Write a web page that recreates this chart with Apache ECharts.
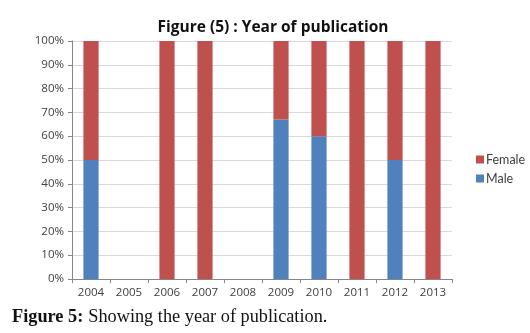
<!DOCTYPE html>
<html>
<head>
<meta charset="utf-8">
<script src="https://cdn.jsdelivr.net/npm/echarts@6/dist/echarts.min.js"></script>
<style>
  html, body { margin: 0; padding: 0; background: #fff; }
  #chart { width: 530px; height: 333px; }
</style>
</head>
<body>
<div id="chart"></div>
<script>
// years on the x axis
const years = ["2004", "2005", "2006", "2007", "2008", "2009", "2010", "2011", "2012", "2013"];
// share of each year's publications, in percent
const male = [50, 0, 0, 0, 0, 67, 60, 0, 50, 0];
const female = [50, 0, 100, 100, 0, 33, 40, 100, 50, 100];

const chart = echarts.init(document.getElementById("chart"));

const option = {
  animation: false,
  title: [
    {
      text: "Figure (5) : Year of publication",
      left: 268,
      top: 15,
      textAlign: "center",
      textStyle: { fontFamily: "Open Sans", fontWeight: "bold", fontSize: 15.5, color: "#111" }
    },
    {
      // caption under the chart
      text: "{b|Figure 5:} {n|Showing the year of publication.}",
      left: 7,
      top: 303,
      textStyle: {
        rich: {
          b: { fontFamily: "Liberation Serif", fontWeight: "bold", fontSize: 18.3, color: "#111" },
          n: { fontFamily: "Liberation Serif", fontWeight: "normal", fontSize: 18.3, color: "#111" }
        }
      }
    }
  ],
  legend: {
    orient: "vertical",
    left: 471,
    top: 148,
    itemWidth: 8,
    itemHeight: 8,
    itemGap: 6,
    icon: "rect",
    data: ["Female", "Male"],
    textStyle: { fontFamily: "Lato", fontSize: 12.5, color: "#404040", padding: [0, 0, 0, -3] }
  },
  grid: { left: 72, right: 78, top: 41, bottom: 54 },
  xAxis: {
    type: "category",
    data: years,
    axisLine: { lineStyle: { color: "#868686" } },
    axisTick: { show: true, length: 4, lineStyle: { color: "#868686" } },
    axisLabel: { fontFamily: "Open Sans", fontSize: 11.5, color: "#404040", margin: 8 }
  },
  yAxis: {
    type: "value",
    min: 0,
    max: 100,
    interval: 10,
    axisLine: { show: true, lineStyle: { color: "#868686" } },
    axisTick: { show: true, length: 4, lineStyle: { color: "#868686" } },
    splitLine: { lineStyle: { color: "#d9d9d9" } },
    axisLabel: { formatter: "{value}%", fontFamily: "Open Sans", fontSize: 11.5, color: "#404040", margin: 8 }
  },
  series: [
    {
      name: "Male",
      type: "bar",
      stack: "total",
      barWidth: "40%",
      data: male,
      itemStyle: { color: "#4f81bd" }
    },
    {
      name: "Female",
      type: "bar",
      stack: "total",
      barWidth: "40%",
      data: female,
      itemStyle: { color: "#c0504d" }
    }
  ]
};

chart.setOption(option);
</script>
</body>
</html>
